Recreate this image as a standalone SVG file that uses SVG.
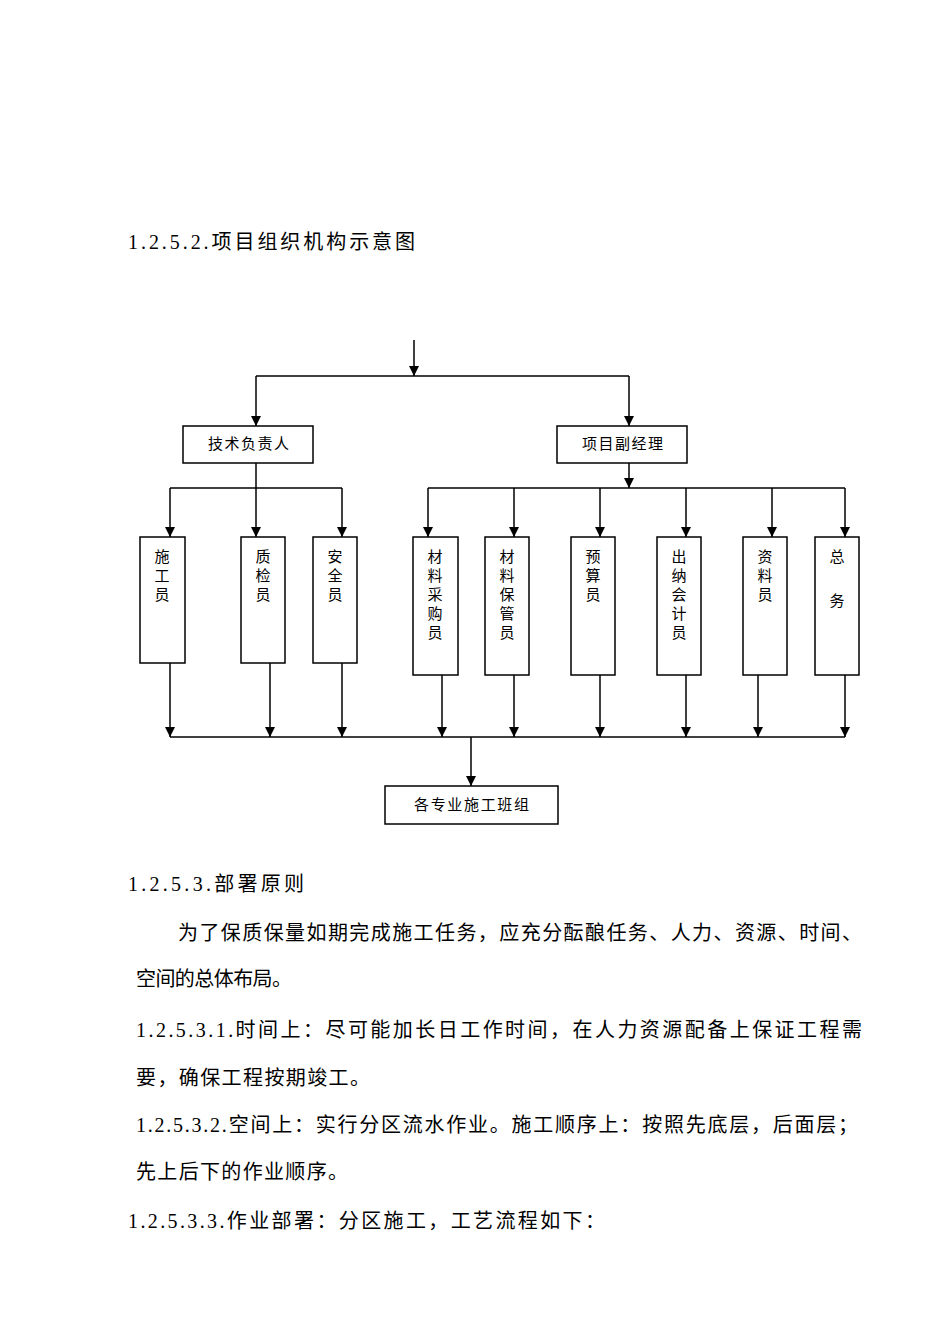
<svg xmlns="http://www.w3.org/2000/svg" width="950" height="1344" viewBox="0 0 950 1344">
<style>
.b{fill:#fff;stroke:#000;stroke-width:1.5}
.t{font-family:"Liberation Serif","Noto Sans CJK SC",serif;font-size:15px;fill:#000}
.p{font-family:"Liberation Serif","Noto Sans CJK SC",serif;font-size:20px;fill:#000}
.c{stroke:#000;stroke-width:1.5;fill:none}
</style>
<defs><marker id="a" markerWidth="10" markerHeight="10" refX="10" refY="5" orient="auto" markerUnits="userSpaceOnUse" viewBox="0 0 10 10"><path d="M0,0L10,5L0,10z" fill="#000"/></marker></defs>
<rect width="950" height="1344" fill="#fff"/>
<text class="p" x="128" y="249" textLength="287" lengthAdjust="spacing">1.2.5.2.项目组织机构示意图</text>
<g id="connectors" class="c">
<path d="M414,340V376" marker-end="url(#a)"/>
<path d="M256,376H629"/>
<path d="M256,376V426" marker-end="url(#a)"/>
<path d="M629,376V426" marker-end="url(#a)"/>
<path d="M256,463V537" marker-end="url(#a)"/>
<path d="M170,488H342"/>
<path d="M170,488V537" marker-end="url(#a)"/>
<path d="M342,488V537" marker-end="url(#a)"/>
<path d="M629,463V488" marker-end="url(#a)"/>
<path d="M428,488H845"/>
<path d="M428,488V537" marker-end="url(#a)"/>
<path d="M514,488V537" marker-end="url(#a)"/>
<path d="M600,488V537" marker-end="url(#a)"/>
<path d="M686,488V537" marker-end="url(#a)"/>
<path d="M772,488V537" marker-end="url(#a)"/>
<path d="M845,488V537" marker-end="url(#a)"/>
<path d="M170,663V737" marker-end="url(#a)"/>
<path d="M270,663V737" marker-end="url(#a)"/>
<path d="M342,663V737" marker-end="url(#a)"/>
<path d="M442,675V737" marker-end="url(#a)"/>
<path d="M514,675V737" marker-end="url(#a)"/>
<path d="M600,675V737" marker-end="url(#a)"/>
<path d="M686,675V737" marker-end="url(#a)"/>
<path d="M758,675V737" marker-end="url(#a)"/>
<path d="M845,675V737" marker-end="url(#a)"/>
<path d="M170,737H845"/>
<path d="M471,737V786" marker-end="url(#a)"/>
</g>
<g id="n1"><rect class="b" x="183" y="426" width="130" height="37"/><text class="t" x="208" y="449" textLength="81" lengthAdjust="spacing">技术负责人</text></g>
<g id="n2"><rect class="b" x="557" y="426" width="130" height="37"/><text class="t" x="582" y="449" textLength="81" lengthAdjust="spacing">项目副经理</text></g>
<g id="n3"><rect class="b" x="140" y="537" width="45" height="126"/><text class="t" text-anchor="middle"><tspan x="162" y="562">施</tspan><tspan x="162" y="581">工</tspan><tspan x="162" y="600">员</tspan></text></g>
<g id="n4"><rect class="b" x="241" y="537" width="44" height="126"/><text class="t" text-anchor="middle"><tspan x="263" y="562">质</tspan><tspan x="263" y="581">检</tspan><tspan x="263" y="600">员</tspan></text></g>
<g id="n5"><rect class="b" x="313" y="537" width="44" height="126"/><text class="t" text-anchor="middle"><tspan x="335" y="562">安</tspan><tspan x="335" y="581">全</tspan><tspan x="335" y="600">员</tspan></text></g>
<g id="n6"><rect class="b" x="413" y="537" width="45" height="138"/><text class="t" text-anchor="middle"><tspan x="435" y="562">材</tspan><tspan x="435" y="581">料</tspan><tspan x="435" y="600">采</tspan><tspan x="435" y="619">购</tspan><tspan x="435" y="638">员</tspan></text></g>
<g id="n7"><rect class="b" x="485" y="537" width="44" height="138"/><text class="t" text-anchor="middle"><tspan x="507" y="562">材</tspan><tspan x="507" y="581">料</tspan><tspan x="507" y="600">保</tspan><tspan x="507" y="619">管</tspan><tspan x="507" y="638">员</tspan></text></g>
<g id="n8"><rect class="b" x="571" y="537" width="44" height="138"/><text class="t" text-anchor="middle"><tspan x="593" y="562">预</tspan><tspan x="593" y="581">算</tspan><tspan x="593" y="600">员</tspan></text></g>
<g id="n9"><rect class="b" x="657" y="537" width="44" height="138"/><text class="t" text-anchor="middle"><tspan x="679" y="562">出</tspan><tspan x="679" y="581">纳</tspan><tspan x="679" y="600">会</tspan><tspan x="679" y="619">计</tspan><tspan x="679" y="638">员</tspan></text></g>
<g id="n10"><rect class="b" x="743" y="537" width="44" height="138"/><text class="t" text-anchor="middle"><tspan x="765" y="562">资</tspan><tspan x="765" y="581">料</tspan><tspan x="765" y="600">员</tspan></text></g>
<g id="n11"><rect class="b" x="815" y="537" width="44" height="138"/><text class="t" text-anchor="middle"><tspan x="837" y="562">总</tspan><tspan x="837" y="606">务</tspan></text></g>
<g id="n12"><rect class="b" x="385" y="786" width="173" height="38"/><text class="t" x="414" y="810" textLength="115" lengthAdjust="spacing">各专业施工班组</text></g>
<text class="p" x="128" y="891" textLength="176" lengthAdjust="spacing">1.2.5.3.部署原则</text>
<text class="p" x="178" y="940" textLength="684" lengthAdjust="spacing">为了保质保量如期完成施工任务，应充分酝酿任务、人力、资源、时间、</text>
<text class="p" x="136" y="986" textLength="156" lengthAdjust="spacing">空间的总体布局。</text>
<text class="p" x="136" y="1037" textLength="726" lengthAdjust="spacing">1.2.5.3.1.时间上：尽可能加长日工作时间，在人力资源配备上保证工程需</text>
<text class="p" x="136" y="1085" textLength="234" lengthAdjust="spacing">要，确保工程按期竣工。</text>
<text class="p" x="136" y="1132" textLength="722" lengthAdjust="spacing">1.2.5.3.2.空间上：实行分区流水作业。施工顺序上：按照先底层，后面层；</text>
<text class="p" x="136" y="1179" textLength="212" lengthAdjust="spacing">先上后下的作业顺序。</text>
<text class="p" x="128" y="1228" textLength="477" lengthAdjust="spacing">1.2.5.3.3.作业部署：分区施工，工艺流程如下：</text>
</svg>
